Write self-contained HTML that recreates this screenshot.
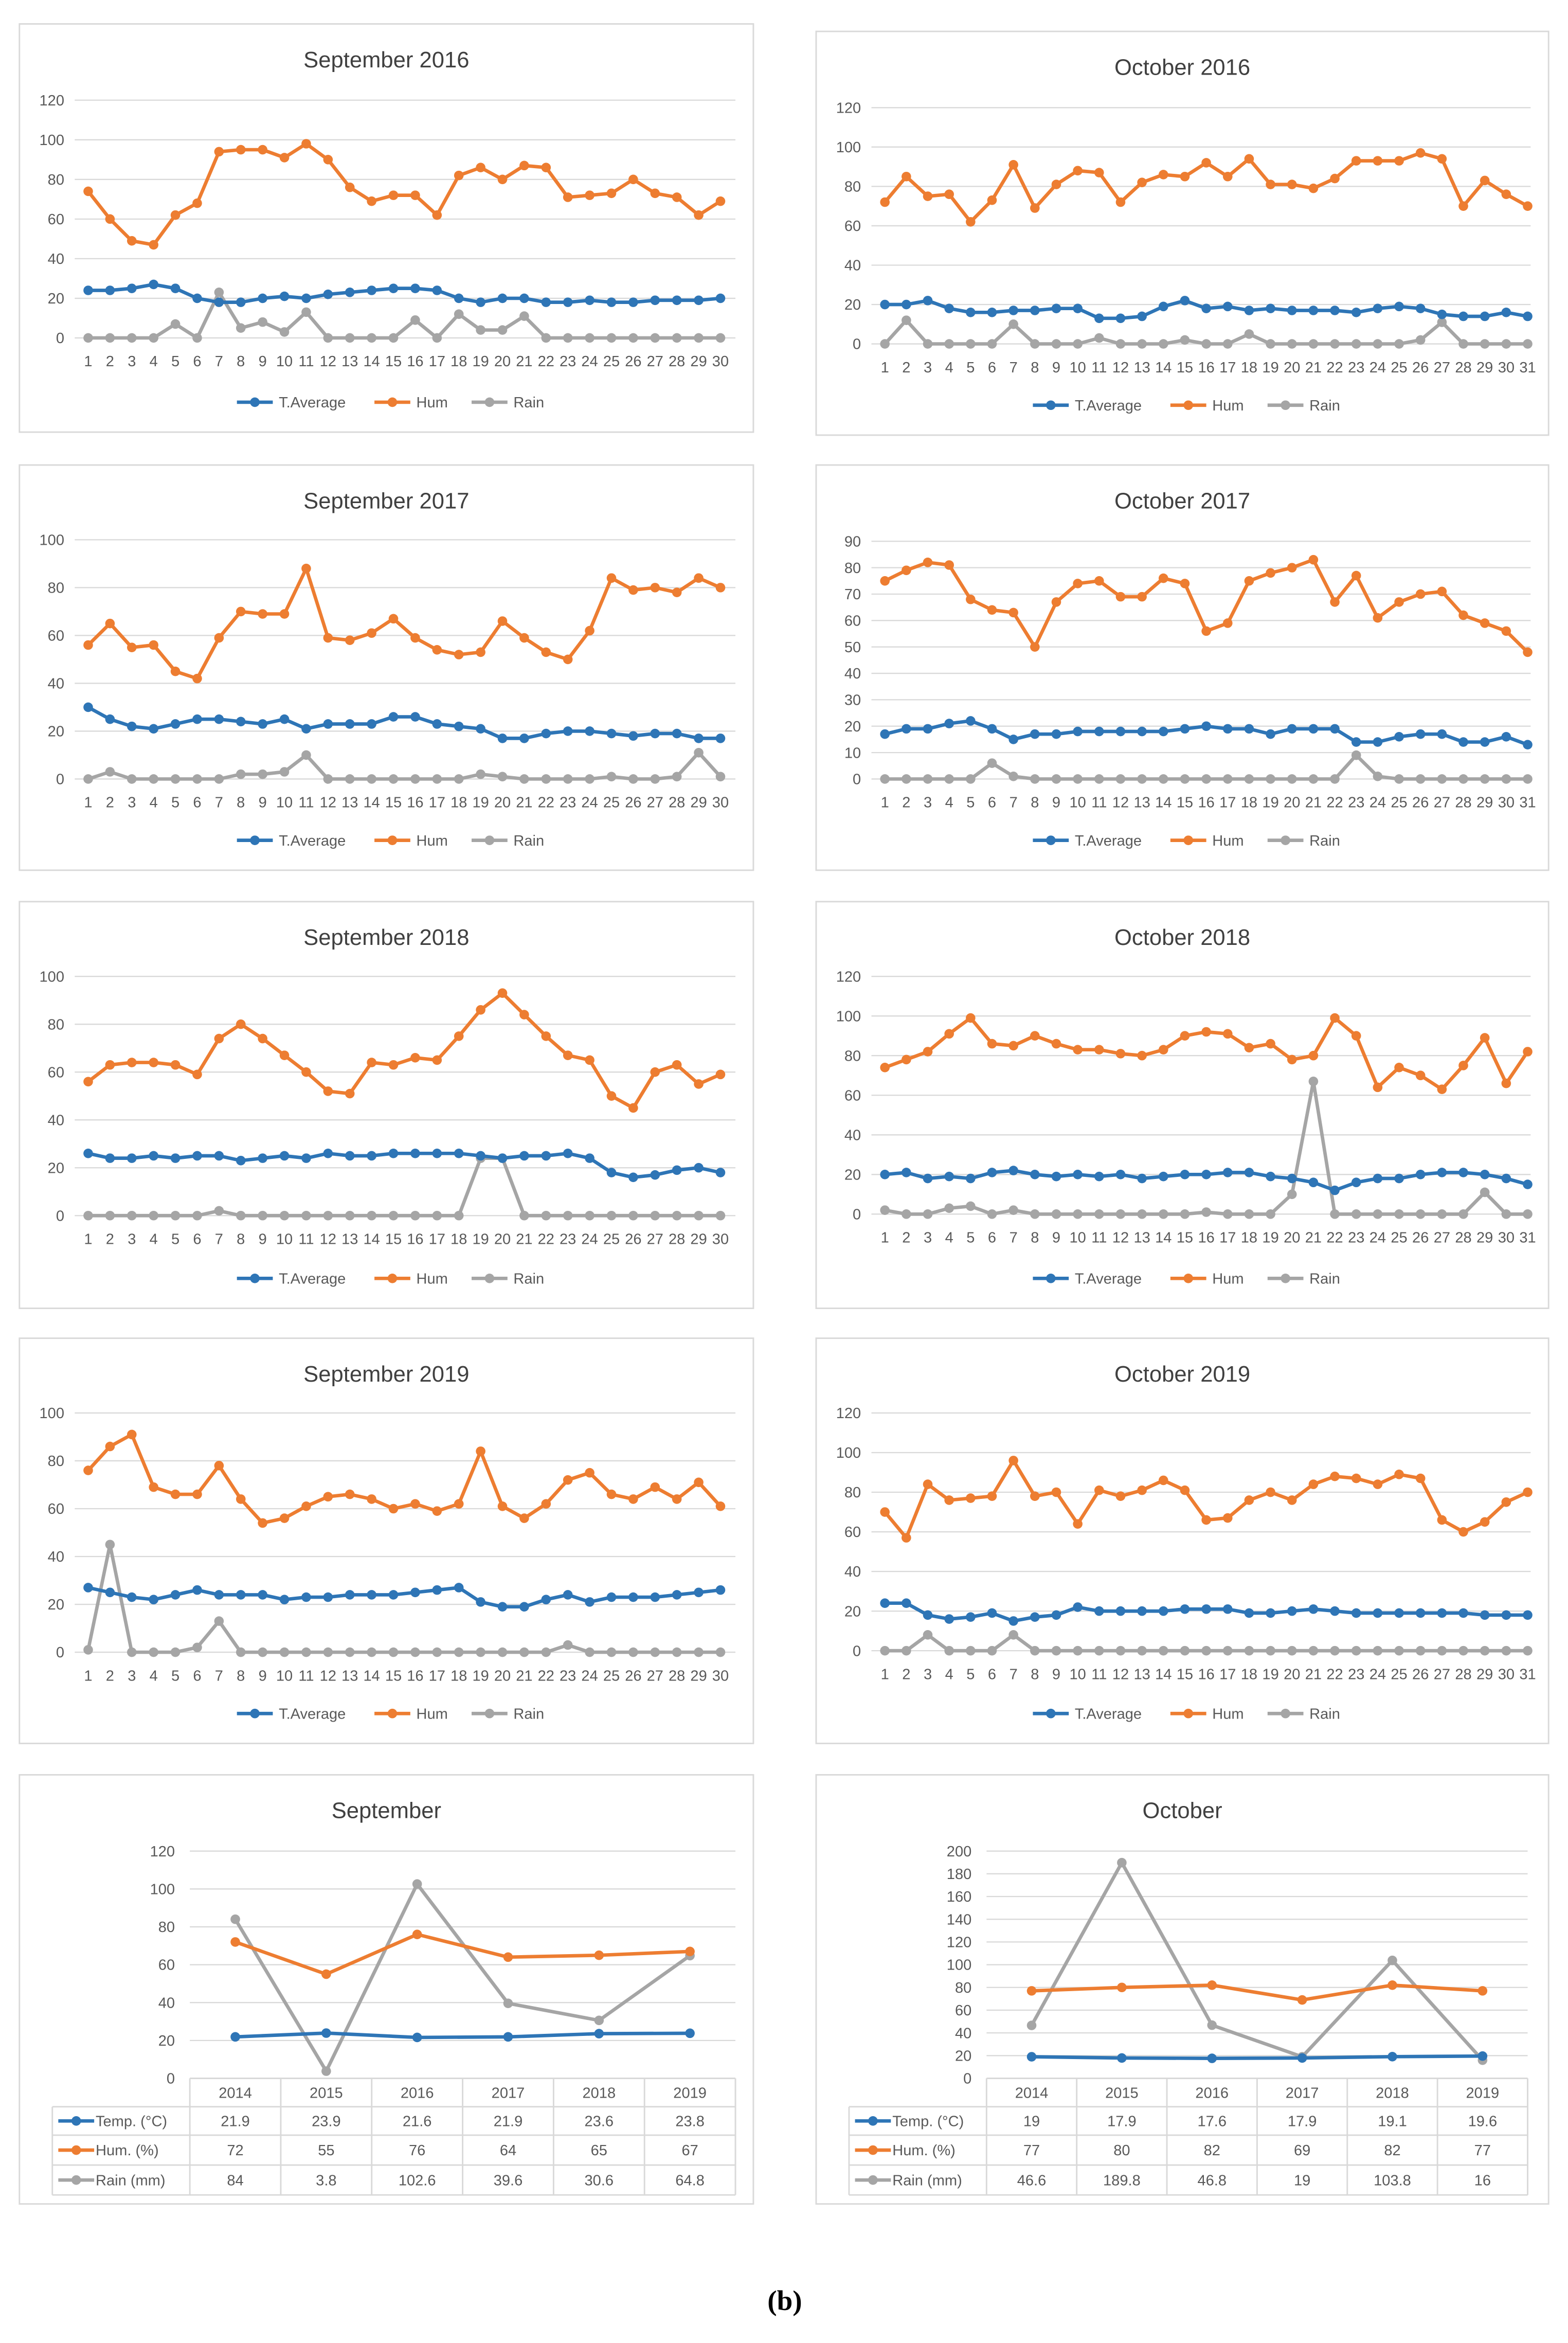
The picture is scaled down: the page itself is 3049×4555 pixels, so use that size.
<!DOCTYPE html>
<html><head><meta charset="utf-8"><style>
html,body{margin:0;padding:0;background:#fff;}
svg{display:block;font-family:"Liberation Sans",sans-serif;}
</style></head><body>
<svg id="fig" width="3049" height="4555" viewBox="0 0 1049 1567" preserveAspectRatio="none" xmlns="http://www.w3.org/2000/svg"></svg>
<script>
// ---- data ----
const sep16T=[24,24,25,27,25,20,18,18,20,21,20,22,23,24,25,25,24,20,18,20,20,18,18,19,18,18,19,19,19,20];
const sep16H=[74,60,49,47,62,68,94,95,95,91,98,90,76,69,72,72,62,82,86,80,87,86,71,72,73,80,73,71,62,69];
const sep16R=[0,0,0,0,7,0,23,5,8,3,13,0,0,0,0,9,0,12,4,4,11,0,0,0,0,0,0,0,0,0];
const oct16T=[20,20,22,18,16,16,17,17,18,18,13,13,14,19,22,18,19,17,18,17,17,17,16,18,19,18,15,14,14,16,14];
const oct16H=[72,85,75,76,62,73,91,69,81,88,87,72,82,86,85,92,85,94,81,81,79,84,93,93,93,97,94,70,83,76,70];
const oct16R=[0,12,0,0,0,0,10,0,0,0,3,0,0,0,2,0,0,5,0,0,0,0,0,0,0,2,11,0,0,0,0];
const sep17T=[30,25,22,21,23,25,25,24,23,25,21,23,23,23,26,26,23,22,21,17,17,19,20,20,19,18,19,19,17,17];
const sep17H=[56,65,55,56,45,42,59,70,69,69,88,59,58,61,67,59,54,52,53,66,59,53,50,62,84,79,80,78,84,80];
const sep17R=[0,3,0,0,0,0,0,2,2,3,10,0,0,0,0,0,0,0,2,1,0,0,0,0,1,0,0,1,11,1];
const oct17T=[17,19,19,21,22,19,15,17,17,18,18,18,18,18,19,20,19,19,17,19,19,19,14,14,16,17,17,14,14,16,13];
const oct17H=[75,79,82,81,68,64,63,50,67,74,75,69,69,76,74,56,59,75,78,80,83,67,77,61,67,70,71,62,59,56,48];
const oct17R=[0,0,0,0,0,6,1,0,0,0,0,0,0,0,0,0,0,0,0,0,0,0,9,1,0,0,0,0,0,0,0];
const sep18T=[26,24,24,25,24,25,25,23,24,25,24,26,25,25,26,26,26,26,25,24,25,25,26,24,18,16,17,19,20,18];
const sep18H=[56,63,64,64,63,59,74,80,74,67,60,52,51,64,63,66,65,75,86,93,84,75,67,65,50,45,60,63,55,59];
const sep18R=[0,0,0,0,0,0,2,0,0,0,0,0,0,0,0,0,0,0,24,24,0,0,0,0,0,0,0,0,0,0];
const oct18T=[20,21,18,19,18,21,22,20,19,20,19,20,18,19,20,20,21,21,19,18,16,12,16,18,18,20,21,21,20,18,15];
const oct18H=[74,78,82,91,99,86,85,90,86,83,83,81,80,83,90,92,91,84,86,78,80,99,90,64,74,70,63,75,89,66,82];
const oct18R=[2,0,0,3,4,0,2,0,0,0,0,0,0,0,0,1,0,0,0,10,67,0,0,0,0,0,0,0,11,0,0];
const sep19T=[27,25,23,22,24,26,24,24,24,22,23,23,24,24,24,25,26,27,21,19,19,22,24,21,23,23,23,24,25,26];
const sep19H=[76,86,91,69,66,66,78,64,54,56,61,65,66,64,60,62,59,62,84,61,56,62,72,75,66,64,69,64,71,61];
const sep19R=[1,45,0,0,0,2,13,0,0,0,0,0,0,0,0,0,0,0,0,0,0,0,3,0,0,0,0,0,0,0];
const oct19T=[24,24,18,16,17,19,15,17,18,22,20,20,20,20,21,21,21,19,19,20,21,20,19,19,19,19,19,19,18,18,18];
const oct19H=[70,57,84,76,77,78,96,78,80,64,81,78,81,86,81,66,67,76,80,76,84,88,87,84,89,87,66,60,65,75,80];
const oct19R=[0,0,8,0,0,0,8,0,0,0,0,0,0,0,0,0,0,0,0,0,0,0,0,0,0,0,0,0,0,0,0];
const years=["2014","2015","2016","2017","2018","2019"];
const sepSumT=[21.9,23.9,21.6,21.9,23.6,23.8];
const sepSumH=[72,55,76,64,65,67];
const sepSumR=[84,3.8,102.6,39.6,30.6,64.8];
const octSumT=[19,17.9,17.6,17.9,19.1,19.6];
const octSumH=[77,80,82,69,82,77];
const octSumR=[46.6,189.8,46.8,19,103.8,16];

const C_T="#2e75b6",C_H="#ed7d31",C_R="#a5a5a5";
const svg=document.getElementById('fig');
const NS="http://www.w3.org/2000/svg";
function mk(tag,attrs,parent){const e=document.createElementNS(NS,tag);for(const k in attrs)e.setAttribute(k,attrs[k]);(parent||svg).appendChild(e);return e;}
function txt(x,y,s,size,anchor,parent,fill){const e=mk('text',{x:x,y:y,'font-size':size,'text-anchor':anchor||'middle',fill:fill||'#595959'},parent);e.textContent=s;return e;}

function series(g,vals,color,xf,yf,name){
  const pts=vals.map((v,i)=>xf(i)+','+yf(v)).join(' ');
  const l=mk('polyline',{points:pts,fill:'none',stroke:color,'stroke-width':2.3,'stroke-linejoin':'round'},g);
  
  
  vals.forEach((v,i)=>{const c=mk('circle',{cx:xf(i),cy:yf(v),r:3.2,fill:color},g);
    
    });
}

function monthly(p){
  const g=mk('g',{});
  
  
  const b=mk('rect',{x:p.x0,y:p.y0,width:p.x1-p.x0,height:p.y1-p.y0,fill:'#fff',stroke:'#d9d9d9','stroke-width':1},g);
  
  
  const t=txt((p.x0+p.x1)/2,p.y0+29,p.title,15,'middle',g,'#404040');
  
  
  const top=p.y0+p.topOff, zero=p.y0+p.zeroOff;
  const yf=v=>zero-(v/p.ymax)*(zero-top);
  const n=p.T.length;
  const xf=i=>p.x0+46+i*(p.span/(n-1));
  for(let v=0;v<=p.ymax;v+=p.step){
    const y=yf(v);
    const gl=mk('line',{x1:p.x0+37,x2:p.x1-12,y1:y,y2:y,stroke:'#d9d9d9','stroke-width':0.8},g);
    
    
    const tl=txt(p.x0+30,y+3.5,String(v),10,'end',g);
    
    
  }
  for(let i=0;i<n;i++){const xl=txt(xf(i),zero+19,String(i+1),10,'middle',g);
    
    }
  series(g,p.R,C_R,xf,yf,'rain');
  series(g,p.H,C_H,xf,yf,'hum');
  series(g,p.T,C_T,xf,yf,'t-average');
  const ly=p.y1-20, lx=(p.x0+p.x1)/2-100;
  const items=[["T.Average",C_T,0],["Hum",C_H,92],["Rain",C_R,157]];
  items.forEach(it=>{
    const lg=mk('g',{},g);
    
    
    mk('line',{x1:lx+it[2],x2:lx+it[2]+24,y1:ly,y2:ly,stroke:it[1],'stroke-width':2.3},lg);
    mk('circle',{cx:lx+it[2]+12,cy:ly,r:3.2,fill:it[1]},lg);
    txt(lx+it[2]+28,ly+3.5,it[0],10,'start',lg);
  });
}

const P=[
 {name:'chart-september-2016',title:'September 2016',x0:13,y0:16,x1:504,y1:289,ymax:120,step:20,topOff:51,zeroOff:210,span:423,T:sep16T,H:sep16H,R:sep16R},
 {name:'chart-october-2016',title:'October 2016',x0:546,y0:21,x1:1036,y1:291,ymax:120,step:20,topOff:51,zeroOff:209,span:430,T:oct16T,H:oct16H,R:oct16R},
 {name:'chart-september-2017',title:'September 2017',x0:13,y0:311,x1:504,y1:582,ymax:100,step:20,topOff:50,zeroOff:210,span:423,T:sep17T,H:sep17H,R:sep17R},
 {name:'chart-october-2017',title:'October 2017',x0:546,y0:311,x1:1036,y1:582,ymax:90,step:10,topOff:51,zeroOff:210,span:430,T:oct17T,H:oct17H,R:oct17R},
 {name:'chart-september-2018',title:'September 2018',x0:13,y0:603,x1:504,y1:875,ymax:100,step:20,topOff:50,zeroOff:210,span:423,T:sep18T,H:sep18H,R:sep18R},
 {name:'chart-october-2018',title:'October 2018',x0:546,y0:603,x1:1036,y1:875,ymax:120,step:20,topOff:50,zeroOff:209,span:430,T:oct18T,H:oct18H,R:oct18R},
 {name:'chart-september-2019',title:'September 2019',x0:13,y0:895,x1:504,y1:1166,ymax:100,step:20,topOff:50,zeroOff:210,span:423,T:sep19T,H:sep19H,R:sep19R},
 {name:'chart-october-2019',title:'October 2019',x0:546,y0:895,x1:1036,y1:1166,ymax:120,step:20,topOff:50,zeroOff:209,span:430,T:oct19T,H:oct19H,R:oct19R}
];
P.forEach(monthly);

function summary(p){
  const g=mk('g',{});
  
  
  const b=mk('rect',{x:p.x0,y:p.y0,width:p.x1-p.x0,height:p.y1-p.y0,fill:'#fff',stroke:'#d9d9d9','stroke-width':1},g);
  
  
  const t=txt((p.x0+p.x1)/2,p.y0+29,p.title,15,'middle',g,'#404040');
  
  
  const top=1238, zero=1390;
  const yf=v=>zero-(v/p.ymax)*(zero-top);
  const cw=(p.pr-p.pl)/years.length;
  const xf=i=>p.pl+cw*(i+0.5);
  for(let v=0;v<=p.ymax;v+=p.step){
    const y=yf(v);
    if(v>0){const gl=mk('line',{x1:p.pl,x2:p.pr,y1:y,y2:y,stroke:'#d9d9d9','stroke-width':0.8},g);
      
      }
    const tl=txt(p.pl-10,y+3.5,String(v),10,'end',g);
    
    
  }
  series(g,p.R,C_R,xf,yf,'rain');
  series(g,p.H,C_H,xf,yf,'hum');
  series(g,p.T,C_T,xf,yf,'temp');
  // table
  const rows=[1390,1409,1428,1448,1468];
  mk('line',{x1:p.pl,x2:p.pr,y1:rows[0],y2:rows[0],stroke:'#d9d9d9'},g);
  for(let r=1;r<rows.length;r++) mk('line',{x1:p.tl,x2:p.pr,y1:rows[r],y2:rows[r],stroke:'#d9d9d9'},g);
  mk('line',{x1:p.tl,x2:p.tl,y1:rows[1],y2:rows[4],stroke:'#d9d9d9'},g);
  for(let i=0;i<=years.length;i++) mk('line',{x1:p.pl+cw*i,x2:p.pl+cw*i,y1:rows[0],y2:rows[4],stroke:'#d9d9d9'},g);
  years.forEach((y,i)=>{const e=txt(xf(i),1403,y,10,'middle',g);
    
    });
  const sets=[["Temp. (°C)",C_T,p.T],["Hum. (%)",C_H,p.H],["Rain (mm)",C_R,p.R]];
  sets.forEach((s,r)=>{
    const cy=(rows[r+1]+rows[r+2])/2;
    const lg=mk('g',{},g);
    
    
    mk('line',{x1:p.tl+4,x2:p.tl+28,y1:cy,y2:cy,stroke:s[1],'stroke-width':2.3},lg);
    mk('circle',{cx:p.tl+16,cy:cy,r:3.2,fill:s[1]},lg);
    txt(p.tl+29,cy+3.5,s[0],10,'start',lg);
    s[2].forEach((v,i)=>{const e=txt(xf(i),cy+3.5,String(v),10,'middle',g);
      
      });
  });
}
summary({name:'chart-september-summary',title:'September',x0:13,y0:1187,x1:504,y1:1474,ymax:120,step:20,pl:127,pr:492,tl:35,T:sepSumT,H:sepSumH,R:sepSumR});
summary({name:'chart-october-summary',title:'October',x0:546,y0:1187,x1:1036,y1:1474,ymax:200,step:20,pl:660,pr:1022,tl:568,T:octSumT,H:octSumH,R:octSumR});

const lb=txt(525,1545,'(b)',19,'middle',svg,'#000');
lb.setAttribute('font-family','"Liberation Serif",serif');
lb.setAttribute('font-weight','bold');


</script>
</body></html>
